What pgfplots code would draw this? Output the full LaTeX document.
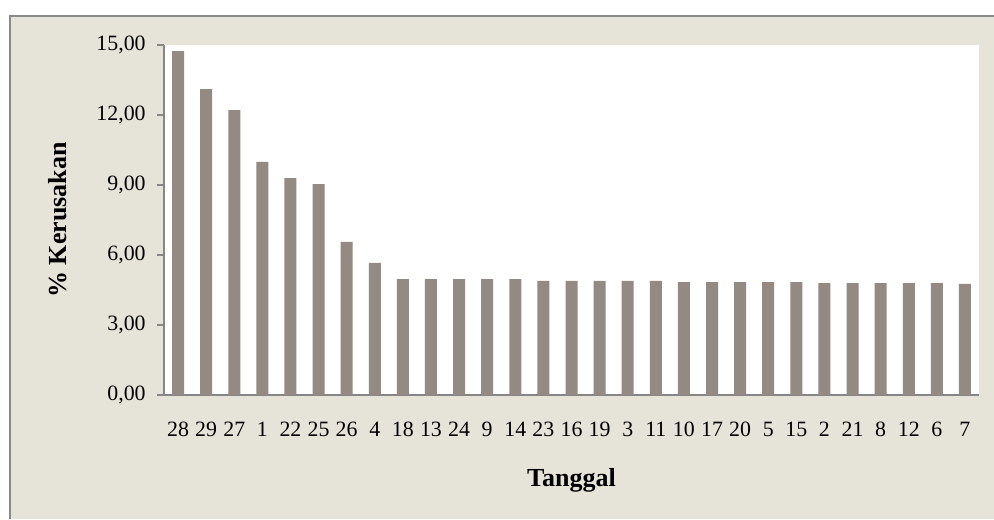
\documentclass[border=0pt]{standalone}
\usepackage{fontspec}
\setmainfont{Liberation Serif}
\usepackage{pgfplots}
\pgfplotsset{compat=1.18}
\definecolor{bgc}{RGB}{230,227,216}
\definecolor{barc}{RGB}{147,138,132}
\definecolor{axc}{RGB}{134,134,134}
\definecolor{framec}{RGB}{138,138,138}
\begin{document}
\begin{tikzpicture}
\begin{scope}[x=0.75pt,y=0.75pt]
\useasboundingbox (0,0) rectangle (994,519);
\fill[bgc] (10,0) rectangle (994,503);
\draw[framec,line width=1.5pt] (10,0) -- (10,503) -- (994,503);
\end{scope}
\begin{axis}[
  at={(123pt,93pt)}, anchor=south west,
  scale only axis, width=611.25pt, height=262.5pt,
  axis background/.style={fill=white},
  ybar, bar width=9pt,
  xmin=-0.5, xmax=28.5, ymin=0, ymax=15,
  ytick={0,3,6,9,12,15},
  xtick=data,
  xticklabels={28,29,27,1,22,25,26,4,18,13,24,9,14,23,16,19,3,11,10,17,20,5,15,2,21,8,12,6,7},
  axis x line*=bottom, axis y line*=left,
  axis line style={axc, line width=1.2pt},
  x axis line style={-}, y axis line style={-},
  xtick style={draw=none},
  ytick style={axc, line width=1.2pt},
  tick align=outside, major tick length=5.25pt,
  /pgf/number format/.cd, fixed, fixed zerofill, precision=2, use comma, assume math mode=true,
  /pgfplots/.cd,
  ticklabel style={font=\fontsize{16.4}{19}\selectfont, text=black},
  xticklabel style={yshift=-11pt, text height=11.5pt, text depth=3pt},
  yticklabel style={xshift=-5pt},
  xlabel={\textbf{Tanggal}}, ylabel={\textbf{\% Kerusakan}},
  label style={font=\fontsize{19.5}{23}\selectfont},
  xlabel style={at={(axis description cs:0.5,-0.243)}, anchor=center},
  ylabel style={at={(axis description cs:-0.1301,0.5)}, anchor=center},
]
\addplot[fill=barc, draw=none] coordinates {
(0,14.74) (1,13.11) (2,12.21) (3,9.99) (4,9.30) (5,9.04) (6,6.56) (7,5.66)
(8,4.97) (9,4.97) (10,4.97) (11,4.97) (12,4.97)
(13,4.89) (14,4.89) (15,4.89) (16,4.89) (17,4.89)
(18,4.84) (19,4.84) (20,4.84) (21,4.84) (22,4.84)
(23,4.80) (24,4.80) (25,4.80) (26,4.80) (27,4.80)
(28,4.76)};
\end{axis}
\end{tikzpicture}
\end{document}
